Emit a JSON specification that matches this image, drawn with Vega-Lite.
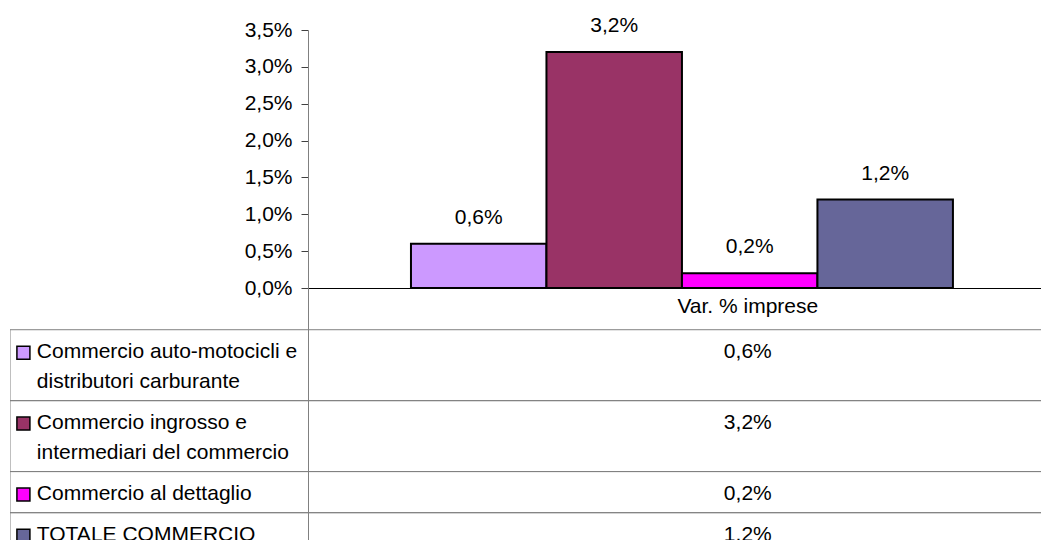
{
  "$schema": "https://vega.github.io/schema/vega-lite/v6.json",
  "padding": {"left": 10, "top": 15, "right": 0, "bottom": 0},
  "background": "white",
  "datasets": {
    "rows": [
      {"cat": "Var. % imprese", "series": "Commercio auto-motocicli e distributori carburante", "lines": ["Commercio auto-motocicli e", "distributori carburante"], "value": 0.006},
      {"cat": "Var. % imprese", "series": "Commercio ingrosso e intermediari del commercio", "lines": ["Commercio ingrosso e", "intermediari del commercio"], "value": 0.032},
      {"cat": "Var. % imprese", "series": "Commercio al dettaglio", "lines": ["Commercio al dettaglio"], "value": 0.002},
      {"cat": "Var. % imprese", "series": "TOTALE COMMERCIO", "lines": ["TOTALE COMMERCIO"], "value": 0.012}
    ]
  },
  "columns": 2,
  "spacing": 0,
  "bounds": "flush",
  "align": "each",
  "resolve": {"scale": {"x": "independent", "y": "independent", "color": "shared"}},
  "concat": [
    {
      "width": 298,
      "height": 258,
      "data": {"values": []},
      "mark": {"type": "text", "text": ""}
    },
    {
      "width": 733,
      "height": 258,
      "data": {"name": "rows"},
      "encoding": {
        "x": {"field": "cat", "type": "nominal", "scale": {"paddingInner": 0, "paddingOuter": 0},
              "axis": {"title": null, "labels": false, "ticks": false, "domainColor": "#000000", "domainWidth": 1}},
        "xOffset": {"field": "series", "type": "nominal", "sort": null,
                    "scale": {"paddingInner": 0, "paddingOuter": 0.705, "align": 0.539}},
        "y": {"field": "value", "type": "quantitative",
              "scale": {"domain": [0, 0.035], "nice": false},
              "axis": {"title": null, "values": [0, 0.005, 0.01, 0.015, 0.02, 0.025, 0.03, 0.035], "format": ".1%",
                       "grid": false, "tickSize": 7, "tickColor": "#404040", "domainColor": "#808080", "labelPadding": 9}}
      },
      "layer": [
        {
          "mark": {"type": "bar", "stroke": "#000000", "strokeWidth": 2},
          "encoding": {
            "color": {"field": "series", "type": "nominal", "sort": null, "legend": null,
                      "scale": {"domain": ["Commercio auto-motocicli e distributori carburante", "Commercio ingrosso e intermediari del commercio", "Commercio al dettaglio", "TOTALE COMMERCIO"],
                                "range": ["#CC99FF", "#993366", "#FF00FF", "#666699"]}}
          }
        },
        {
          "mark": {"type": "text", "baseline": "middle", "dy": -26, "fontSize": 21, "font": "Liberation Sans", "color": "#000000"},
          "encoding": {"text": {"field": "value", "type": "quantitative", "format": ".1%"}}
        }
      ]
    },
    {
      "width": 298,
      "height": 252,
      "data": {"name": "rows"},
      "transform": [
        {"calculate": "length(datum.lines) + 0.38", "as": "size"},
        {"window": [{"op": "sum", "field": "size", "as": "cum"}], "frame": [null, 0]},
        {"calculate": "datum.cum + 1.4 - datum.size", "as": "top"},
        {"calculate": "datum.cum + 1.4", "as": "bottom"},
        {"calculate": "datum.top + 0.77", "as": "mid"}
      ],
      "layer": [
        {
          "mark": {"type": "rule", "color": "#808080", "strokeWidth": 1, "clip": true},
          "encoding": {"y": {"field": "top", "type": "quantitative", "scale": {"domain": [0, 8.456], "reverse": true, "nice": false, "zero": false}, "axis": null}}
        },
        {
          "mark": {"type": "rule", "color": "#808080", "strokeWidth": 1, "clip": true},
          "encoding": {"y": {"field": "bottom", "type": "quantitative"}}
        },
        {
          "mark": {"type": "rule", "color": "#808080", "strokeWidth": 1, "clip": true},
          "encoding": {
            "x": {"datum": 0, "type": "quantitative", "scale": {"domain": [0, 1], "nice": false, "zero": false}, "axis": null},
            "y": {"field": "top", "type": "quantitative"},
            "y2": {"field": "bottom"}
          }
        },
        {
          "mark": {"type": "point", "shape": "square", "filled": true, "size": 169, "stroke": "#000000", "strokeWidth": 1.5, "opacity": 1, "clip": true},
          "encoding": {
            "x": {"datum": 0.045, "type": "quantitative"},
            "y": {"field": "mid", "type": "quantitative"},
            "color": {"field": "series", "type": "nominal", "sort": null, "legend": null,
                      "scale": {"domain": ["Commercio auto-motocicli e distributori carburante", "Commercio ingrosso e intermediari del commercio", "Commercio al dettaglio", "TOTALE COMMERCIO"],
                                "range": ["#CC99FF", "#993366", "#FF00FF", "#666699"]}}
          }
        },
        {
          "mark": {"type": "text", "align": "left", "baseline": "top", "dy": 11.5, "lineHeight": 30, "fontSize": 21, "font": "Liberation Sans", "color": "#000000", "clip": true},
          "encoding": {
            "x": {"datum": 0.09, "type": "quantitative"},
            "y": {"field": "top", "type": "quantitative"},
            "text": {"field": "lines"}
          }
        }
      ]
    },
    {
      "width": 733,
      "height": 252,
      "data": {"name": "rows"},
      "transform": [
        {"calculate": "length(datum.lines) + 0.38", "as": "size"},
        {"window": [{"op": "sum", "field": "size", "as": "cum"}], "frame": [null, 0]},
        {"calculate": "datum.cum + 1.4 - datum.size", "as": "top"},
        {"calculate": "datum.cum + 1.4", "as": "bottom"}
      ],
      "layer": [
        {
          "mark": {"type": "rule", "color": "#808080", "strokeWidth": 1, "clip": true},
          "encoding": {"y": {"field": "top", "type": "quantitative", "scale": {"domain": [0, 8.456], "reverse": true, "nice": false, "zero": false},
                             "axis": {"title": null, "labels": false, "ticks": false, "grid": false, "domainColor": "#808080"}}}
        },
        {
          "mark": {"type": "rule", "color": "#808080", "strokeWidth": 1, "clip": true},
          "encoding": {"y": {"field": "bottom", "type": "quantitative"}}
        },
        {
          "mark": {"type": "text", "align": "center", "baseline": "top", "dy": 11.5, "fontSize": 21, "font": "Liberation Sans", "color": "#000000", "clip": true},
          "encoding": {
            "x": {"field": "cat", "type": "nominal", "scale": {"paddingInner": 0, "paddingOuter": 0.05, "align": 0.6}, "axis": null},
            "y": {"field": "top", "type": "quantitative"},
            "text": {"field": "value", "type": "quantitative", "format": ".1%"}
          }
        },
        {
          "transform": [{"aggregate": [{"op": "count", "as": "n"}], "groupby": ["cat"]}],
          "mark": {"type": "text", "align": "center", "baseline": "top", "dy": 8, "fontSize": 21, "font": "Liberation Sans", "color": "#000000"},
          "encoding": {
            "x": {"field": "cat", "type": "nominal"},
            "y": {"datum": 0, "type": "quantitative"},
            "text": {"field": "cat"}
          }
        }
      ]
    }
  ],
  "config": {
    "locale": {"number": {"decimal": ",", "thousands": ".", "grouping": [3], "currency": ["€", ""]}},
    "view": {"stroke": null},
    "font": "Liberation Sans",
    "axis": {"labelFont": "Liberation Sans", "labelFontSize": 21, "labelColor": "#000000"}
  }
}
